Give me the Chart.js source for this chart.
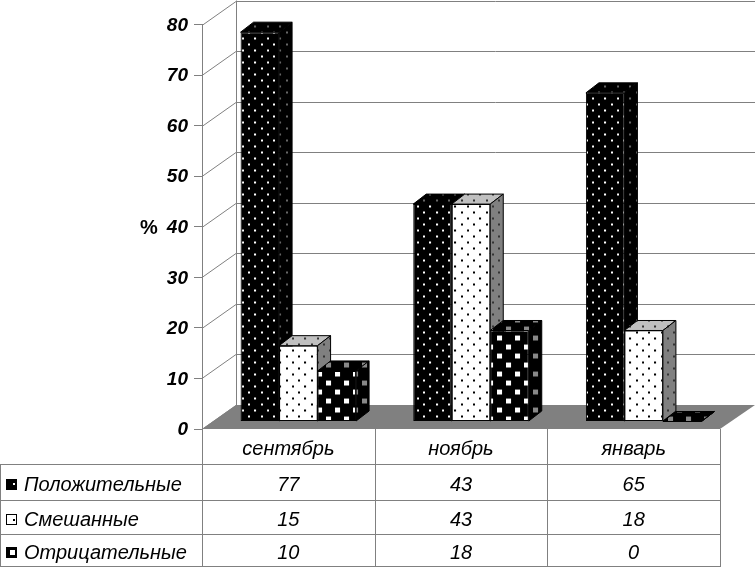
<!DOCTYPE html>
<html>
<head>
<meta charset="utf-8">
<title>chart</title>
<style>
html, body { margin: 0; padding: 0; background: #fff; }
canvas { display: block; }
</style>
<script src="https://cdn.jsdelivr.net/npm/chart.js@4"></script>
</head>
<body>
<canvas id="chart" width="755" height="567"></canvas>
<script>
var categories = ['сентябрь', 'ноябрь', 'январь'];
var seriesNames = ['Положительные', 'Смешанные', 'Отрицательные'];
var positive = [77, 43, 65];
var mixed = [15, 43, 18];
var negative = [10, 18, 0];
var yTicks = [0, 10, 20, 30, 40, 50, 60, 70, 80];

var FONT = '"Liberation Sans", Arial, sans-serif';
var GRID = '#808080';
var WALL_DX = 34, WALL_DY = -24;   // back wall offset
var BAR_DX = 10, BAR_DY = -7.5;    // bars stand a bit in on the floor
var DEPTH_DX = 13, DEPTH_DY = -10; // bar depth

function dots(bg, fg) {
    var c = document.createElement('canvas');
    c.width = 25; c.height = 12;
    var g = c.getContext('2d');
    g.fillStyle = bg; g.fillRect(0, 0, 25, 12);
    g.fillStyle = fg;
    [[1, 3], [13, 3], [7, 9], [19, 9]].forEach(function (p) { g.fillRect(p[0], p[1], 2, 2); });
    return g.createPattern(c, 'repeat');
}

function squares(bg, fg) {
    var c = document.createElement('canvas');
    c.width = 18; c.height = 18;
    var g = c.getContext('2d');
    g.fillStyle = bg; g.fillRect(0, 0, 18, 18);
    g.fillStyle = fg;
    g.fillRect(1, 1, 5, 5);
    g.fillRect(10, 10, 5, 5);
    return g.createPattern(c, 'repeat');
}

var faces = [
    { front: dots('#000', '#fff'), top: dots('#000', '#666'), side: dots('#000', '#666') },
    { front: dots('#fff', '#000'), top: dots('#c0c0c0', '#333'), side: dots('#808080', '#333') },
    { front: squares('#000', '#fff'), top: squares('#000', '#888'), side: squares('#000', '#888') }
];

function poly(ctx, pts, fill, stroke) {
    ctx.beginPath();
    pts.forEach(function (p, i) { if (i) ctx.lineTo(p[0], p[1]); else ctx.moveTo(p[0], p[1]); });
    ctx.closePath();
    if (fill) { ctx.fillStyle = fill; ctx.fill(); }
    if (stroke) { ctx.strokeStyle = stroke; ctx.lineWidth = 1; ctx.stroke(); }
}

function line(ctx, x1, y1, x2, y2) {
    ctx.beginPath();
    ctx.moveTo(x1, y1);
    ctx.lineTo(x2, y2);
    ctx.stroke();
}

// walls and floor behind the bars, then the bars left to right
var wallsPlugin = {
    id: 'walls',
    beforeDatasetsDraw: function (chart) {
        var ctx = chart.ctx, x = chart.scales.x, y = chart.scales.y;
        ctx.save();
        ctx.strokeStyle = GRID;
        ctx.lineWidth = 1;
        yTicks.forEach(function (v) {
            var py = Math.round(y.getPixelForValue(v)) + 0.5;
            line(ctx, x.left, py, x.left + WALL_DX, py + WALL_DY);
            if (v > 0) line(ctx, x.left + WALL_DX, py + WALL_DY, 755, py + WALL_DY);
        });
        var top = y.getPixelForValue(80), bottom = y.getPixelForValue(0);
        line(ctx, x.left + WALL_DX + 0.5, top + WALL_DY, x.left + WALL_DX + 0.5, bottom + WALL_DY);
        poly(ctx, [[x.left, bottom], [x.left + WALL_DX, bottom + WALL_DY],
            [x.right + WALL_DX + 1, bottom + WALL_DY], [x.right, bottom]], GRID);
        ctx.restore();

        ctx.save();
        ctx.translate(BAR_DX, BAR_DY);
        chart.getSortedVisibleDatasetMetas().forEach(function (meta) {
            meta.controller.draw();
            var f = faces[meta.index];
            meta.data.forEach(function (bar) {
                var l = bar.x - bar.width / 2, r = bar.x + bar.width / 2, t = bar.y, b = bar.base;
                poly(ctx, [[l, t], [l + DEPTH_DX, t + DEPTH_DY], [r + DEPTH_DX, t + DEPTH_DY], [r, t]], f.top, '#000');
                poly(ctx, [[r, t], [r + DEPTH_DX, t + DEPTH_DY], [r + DEPTH_DX, b + DEPTH_DY], [r, b]], f.side, '#000');
            });
        });
        ctx.restore();
    },
    // already drawn above, in front-to-right order
    beforeDatasetDraw: function () {
        return false;
    }
};

// data table under the chart
var tablePlugin = {
    id: 'table',
    afterDraw: function (chart) {
        var ctx = chart.ctx, x = chart.scales.x, y = chart.scales.y;
        var rows = [positive, mixed, negative];
        var rowLines = [464.5, 500.5, 534.5, 566.5];
        var step = (x.right - x.left) / categories.length;
        var bottom = y.getPixelForValue(0);

        ctx.save();
        ctx.strokeStyle = GRID;
        ctx.lineWidth = 1;
        rowLines.forEach(function (py) { line(ctx, 0, py, x.right, py); });
        for (var i = 0; i <= categories.length; i++) {
            var vx = Math.round(x.left + i * step) + 0.5;
            line(ctx, vx, bottom, vx, 567);
        }
        line(ctx, 0.5, rowLines[0], 0.5, 567);

        ctx.fillStyle = '#000';
        ctx.textBaseline = 'middle';
        ctx.font = 'italic 20px ' + FONT;
        rows.forEach(function (row, r) {
            var cy = (rowLines[r] + rowLines[r + 1]) / 2 + 1;
            ctx.fillStyle = faces[r].front;
            ctx.fillRect(6.5, cy - 4, 10, 10);
            ctx.strokeStyle = '#000';
            ctx.strokeRect(6.5, cy - 4, 10, 10);
            ctx.fillStyle = '#000';
            ctx.textAlign = 'left';
            ctx.fillText(seriesNames[r], 24, cy + 2);
            ctx.textAlign = 'center';
            row.forEach(function (v, c) {
                ctx.fillText(String(v), x.getPixelForValue(c), cy + 2);
            });
        });

        ctx.textAlign = 'left';
        ctx.font = 'bold 20px ' + FONT;
        ctx.fillText('%', 140, y.getPixelForValue(40) + 2);
        ctx.restore();
    }
};

new Chart(document.getElementById('chart'), {
    type: 'bar',
    data: {
        labels: categories,
        datasets: [
            { label: seriesNames[0], data: positive, backgroundColor: faces[0].front },
            { label: seriesNames[1], data: mixed, backgroundColor: faces[1].front },
            { label: seriesNames[2], data: negative, backgroundColor: faces[2].front }
        ].map(function (d) {
            d.borderColor = '#000';
            d.borderWidth = 1;
            d.borderSkipped = false;
            d.categoryPercentage = 0.669;
            d.barPercentage = 1;
            d.clip = false;
            return d;
        })
    },
    options: {
        responsive: false,
        animation: false,
        layout: { padding: { top: 24.5, right: 35, left: 0, bottom: 0 } },
        plugins: { legend: { display: false }, tooltip: { enabled: false } },
        scales: {
            x: {
                grid: { display: false },
                border: { display: false },
                ticks: { color: '#000', padding: 0, maxRotation: 0, font: { family: FONT, size: 20, style: 'italic' } },
                afterFit: function (scale) { scale.height = 138; }
            },
            y: {
                min: 0,
                max: 80,
                ticks: { stepSize: 10, color: '#000', padding: 6, labelOffset: 1, font: { family: FONT, size: 19, style: 'italic', weight: 'bold' } },
                grid: { drawOnChartArea: false, drawTicks: true, tickLength: 8, color: GRID },
                border: { display: true, color: GRID },
                afterFit: function (scale) { scale.width = 202; }
            }
        }
    },
    plugins: [wallsPlugin, tablePlugin]
});
</script>
</body>
</html>
